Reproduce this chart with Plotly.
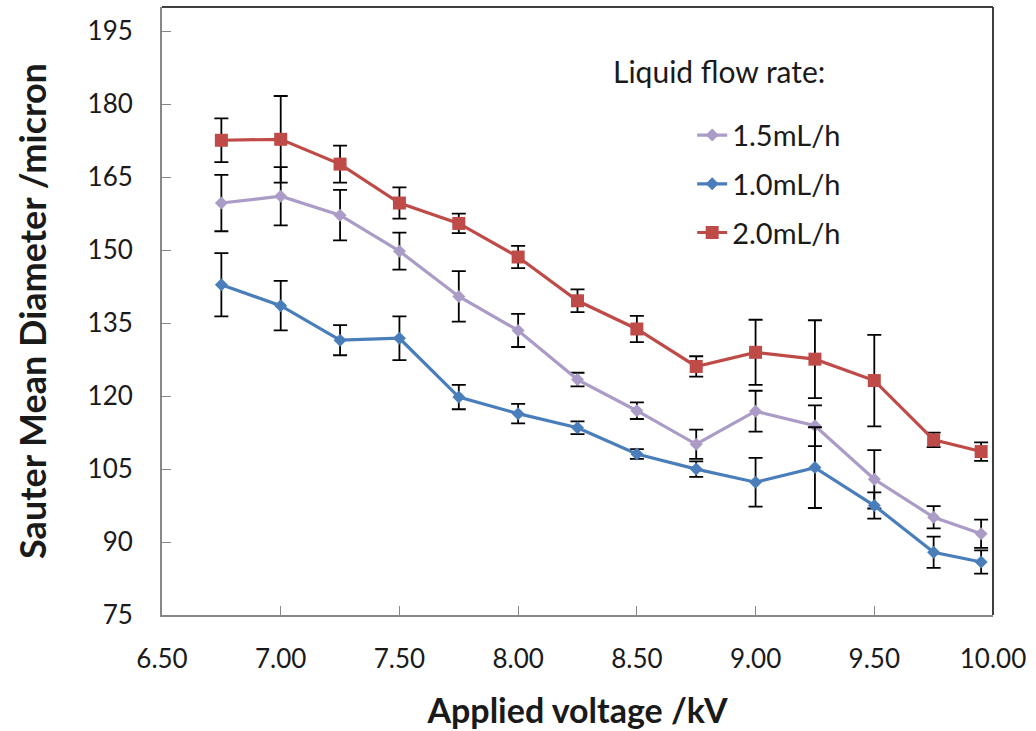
import plotly.graph_objects as go

# Applied voltage (kV) for every measurement
voltage = [6.75, 7.00, 7.25, 7.50, 7.75, 8.00, 8.25, 8.50, 8.75, 9.00, 9.25, 9.50, 9.75, 9.95]

# Sauter mean diameter (micron) and error half-widths per liquid flow rate
smd_15 = [159.7, 161.1, 157.2, 149.8, 140.5, 133.5, 123.4, 117.0, 110.1, 116.9, 113.9, 102.9, 95.1, 91.7]
err_15 = [5.8, 6.0, 5.2, 3.8, 5.2, 3.4, 1.4, 1.7, 3.0, 4.2, 4.2, 6.0, 2.3, 2.9]

smd_10 = [142.9, 138.6, 131.5, 131.9, 119.8, 116.4, 113.5, 108.1, 105.0, 102.3, 105.3, 97.5, 87.9, 85.9]
err_10 = [6.5, 5.1, 3.1, 4.5, 2.5, 2.0, 1.3, 1.0, 1.6, 5.0, 8.3, 2.7, 3.2, 2.4]

smd_20 = [172.6, 172.8, 167.7, 159.7, 155.5, 148.6, 139.6, 133.8, 126.1, 129.0, 127.6, 123.2, 111.0, 108.6]
err_20 = [4.5, 8.9, 3.8, 3.2, 2.0, 2.3, 2.35, 2.7, 2.1, 6.7, 8.0, 9.4, 1.5, 1.9]

series_names = ["1.5mL/h", "1.0mL/h", "2.0mL/h"]
x_ticks = [6.5, 7.0, 7.5, 8.0, 8.5, 9.0, 9.5, 10.0]
y_ticks = [75, 90, 105, 120, 135, 150, 165, 180, 195]

FONT = "Lato"
TEXT = "#1a1a1a"
series = [
    (series_names[0], smd_15, err_15, "#AB9BC7", "diamond", 10),
    (series_names[1], smd_10, err_10, "#4A7EBB", "diamond", 10),
    (series_names[2], smd_20, err_20, "#BE4B48", "square", 13),
]

fig = go.Figure()
for i, (name, y, err, color, symbol, msize) in enumerate(series):
    fig.add_trace(go.Scatter(
        x=voltage, y=y, name=name, mode="lines+markers",
        legendgroup=f"g{i}",
        line=dict(color=color, width=3.2),
        marker=dict(symbol=symbol, size=msize, color=color),
        error_y=dict(type="data", array=err, visible=True,
                     color="black", thickness=1.8, width=7),
    ))

fig.update_layout(
    width=1036, height=731,
    margin=dict(l=162, r=43, t=7, b=113),
    paper_bgcolor="white", plot_bgcolor="white",
    font=dict(family=FONT, size=26, color=TEXT),
    showlegend=True,
    legend=dict(
        x=0.638, y=0.831, xanchor="left", yanchor="top",
        bgcolor="rgba(0,0,0,0)", tracegroupgap=8,
        font=dict(family=FONT, size=29, color=TEXT),
    ),
    xaxis=dict(
        range=[6.5, 10.0], tickvals=x_ticks,
        ticktext=[f"{v:.2f}" for v in x_ticks],
        ticks="inside", ticklen=9, tickwidth=1, tickcolor="#888888",
        showline=True, linecolor="#888888", linewidth=2,
        showgrid=False, zeroline=False,
        ticklabelstandoff=20,
        tickfont=dict(family=FONT, size=26, color=TEXT),
        title=dict(text="<b>Applied voltage /kV</b>", standoff=26,
                   font=dict(family=FONT, size=34, color=TEXT)),
    ),
    yaxis=dict(
        range=[75, 200], tickvals=y_ticks,
        ticks="inside", ticklen=9, tickwidth=1, tickcolor="#888888",
        showline=True, linecolor="#888888", linewidth=2,
        showgrid=False, zeroline=False,
        ticklabelstandoff=22,
        tickfont=dict(family=FONT, size=26, color=TEXT),
        title=dict(text="<b>Sauter Mean Diameter /micron</b>", standoff=30,
                   font=dict(family=FONT, size=36, color=TEXT)),
    ),
    annotations=[dict(
        text="Liquid flow rate:", x=0.54, y=0.895, xref="paper", yref="paper",
        xanchor="left", yanchor="middle", showarrow=False,
        font=dict(family=FONT, size=30, color=TEXT),
    )],
    shapes=[
        dict(type="line", xref="x domain", yref="y domain", x0=0, x1=1, y0=1, y1=1,
             line=dict(color="#404040", width=2)),
        dict(type="line", xref="x domain", yref="y domain", x0=1, x1=1, y0=0, y1=1,
             line=dict(color="#404040", width=2)),
    ],
)

fig.write_html("out.html")
